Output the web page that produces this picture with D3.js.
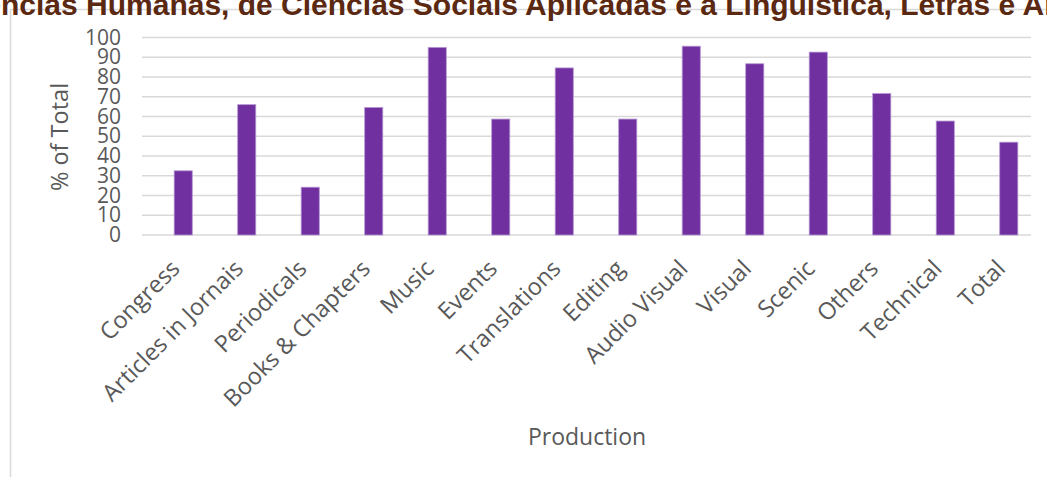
<!DOCTYPE html>
<html lang="en">
<head>
<meta charset="utf-8">
<title>Production % of Total</title>
<script src="https://cdn.jsdelivr.net/npm/d3@7"></script>
<style>
  body { margin: 0; background: #fff; }
  svg { display: block; }
</style>
</head>
<body>
<script>
// data
var categories = ["Congress", "Articles in Jornais", "Periodicals", "Books & Chapters", "Music", "Events",
  "Translations", "Editing", "Audio Visual", "Visual", "Scenic", "Others", "Technical", "Total"];
var values = [32.5, 66, 24.2, 64.6, 95, 58.7, 84.6, 58.7, 95.6, 86.7, 92.6, 71.6, 57.7, 47];
var yTicks = [0, 10, 20, 30, 40, 50, 60, 70, 80, 90, 100];
var titleText = "Ciências Humanas, de Ciências Sociais Aplicadas e a Linguística, Letras e Artes";

var w = 1047, h = 477;
var font = "'Open Sans', 'Noto Sans', sans-serif";
var titleFont = "'Liberation Sans', Arial, sans-serif";

var svg = d3.select("body").append("svg")
  .attr("width", w)
  .attr("height", h);

// chart frame (top + left edges visible)
svg.append("path")
  .attr("d", "M10.5," + h + "V9.5H" + w)
  .attr("fill", "none")
  .attr("stroke", "#d9d9d9")
  .attr("stroke-width", 1.5);

// title, clipped by the top edge
var title = svg.append("text")
  .attr("y", 15)
  .attr("font-family", titleFont)
  .attr("font-weight", "bold")
  .attr("font-size", 30)
  .attr("fill", "#5b2812")
  .text(titleText);
var pre = svg.append("text")
  .attr("font-family", titleFont)
  .attr("font-weight", "bold")
  .attr("font-size", 30)
  .text("Ciê");
var preW = pre.node().getComputedTextLength();
pre.remove();
title.attr("x", -preW + 1);

var x = d3.scaleBand()
  .domain(categories)
  .range([151.5, 1040.5])
  .paddingInner(0.715)
  .paddingOuter(0.357);

var y = d3.scaleLinear()
  .domain([0, 100])
  .range([235, 37.5]);

// gridlines
svg.append("g")
  .selectAll("line")
  .data(yTicks)
  .join("line")
  .attr("x1", 142)
  .attr("x2", 1031)
  .attr("y1", function(d) { return y(d); })
  .attr("y2", function(d) { return y(d); })
  .attr("stroke", "#d9d9d9")
  .attr("stroke-width", 1.5);

// y axis labels
var yAxis = d3.axisLeft(y).tickValues(yTicks).tickSize(0).tickPadding(0);
var gy = svg.append("g")
  .attr("transform", "translate(121,0)")
  .call(yAxis);
gy.select(".domain").remove();
gy.selectAll("text")
  .attr("font-family", font)
  .attr("font-size", 21)
  .attr("fill", "#595959");

// bars
svg.append("g")
  .selectAll("rect")
  .data(values)
  .join("rect")
  .attr("x", function(d, i) { return x(categories[i]); })
  .attr("y", function(d) { return y(d); })
  .attr("width", x.bandwidth())
  .attr("height", function(d) { return y(0) - y(d); })
  .attr("fill", "#7030a0")
  .attr("stroke", "#b596d2")
  .attr("stroke-width", 0.8);

// x labels, rotated
var xAxis = d3.axisBottom(x).tickSize(0).tickPadding(0);
var gx = svg.append("g")
  .attr("transform", "translate(0,235)")
  .call(xAxis);
gx.select(".domain").remove();
gx.selectAll("text")
  .attr("font-family", font)
  .attr("font-size", 23.5)
  .attr("fill", "#595959")
  .attr("text-anchor", "end")
  .attr("dy", "0")
  .attr("transform", "translate(-2,35) rotate(-45)");

// axis titles
svg.append("text")
  .attr("transform", "translate(68,137) rotate(-90)")
  .attr("text-anchor", "middle")
  .attr("font-family", font)
  .attr("font-size", 23.5)
  .attr("fill", "#595959")
  .text("% of Total");

svg.append("text")
  .attr("x", 587)
  .attr("y", 445)
  .attr("text-anchor", "middle")
  .attr("font-family", font)
  .attr("font-size", 23)
  .attr("fill", "#595959")
  .text("Production");
</script>
</body>
</html>
